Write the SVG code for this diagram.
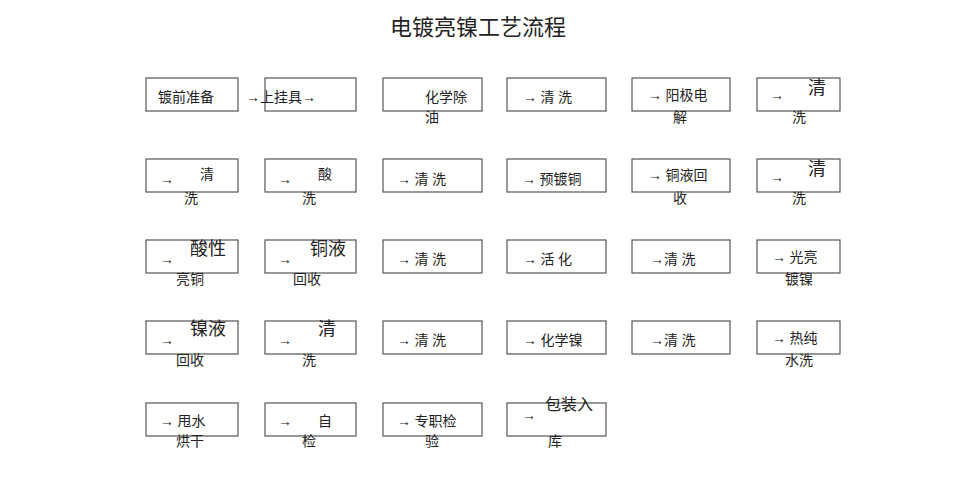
<svg xmlns="http://www.w3.org/2000/svg" width="956" height="494" viewBox="0 0 956 494">
<style>
rect{fill:#fff;stroke:#555;stroke-width:1.2}
text{font-family:"Liberation Serif","Noto Sans CJK SC",serif;font-size:14px;fill:#222}
.b{font-size:18px}
.t{font-size:22px}
</style>
<rect x="0" y="0" width="956" height="494" style="stroke:none"/>
<text class="t" x="478" y="35" text-anchor="middle">电镀亮镍工艺流程</text>
<g id="connectors"></g>
<g id="r1">
<g id="n1"><rect x="146" y="78" width="92" height="33"/><text x="158" y="102">镀前准备</text></g>
<g id="n2"><rect x="265" y="78" width="91" height="33"/><text x="246" y="102">→上挂具→</text></g>
<g id="n3"><rect x="383" y="78" width="99" height="33"/><text x="425" y="102">化学除</text><text x="425" y="122">油</text></g>
<g id="n4"><rect x="507" y="78" width="99" height="33"/><text x="523" y="102">→   清 洗</text></g>
<g id="n5"><rect x="632" y="78" width="98" height="33"/><text x="648" y="100">→ 阳极电</text><text x="673" y="122">解</text></g>
<g id="n6"><rect x="757" y="78" width="83" height="33"/><text x="770" y="100">→</text><text class="b" x="808" y="94">清</text><text x="792" y="122">洗</text></g>
</g>
<g id="r2">
<g id="n7"><rect x="146" y="159" width="92" height="33"/><text x="160" y="184">→</text><text x="200" y="179">清</text><text x="184" y="203">洗</text></g>
<g id="n8"><rect x="265" y="159" width="91" height="33"/><text x="278" y="184">→</text><text x="318" y="179">酸</text><text x="302" y="203">洗</text></g>
<g id="n9"><rect x="383" y="159" width="99" height="33"/><text x="397" y="184">→   清   洗</text></g>
<g id="n10"><rect x="507" y="159" width="99" height="33"/><text x="522" y="184">→   预镀铜</text></g>
<g id="n11"><rect x="632" y="159" width="98" height="33"/><text x="648" y="180">→ 铜液回</text><text x="673" y="203">收</text></g>
<g id="n12"><rect x="757" y="159" width="83" height="33"/><text x="770" y="182">→</text><text class="b" x="808" y="175">清</text><text x="792" y="203">洗</text></g>
</g>
<g id="r3">
<g id="n13"><rect x="146" y="240" width="92" height="33"/><text x="160" y="264">→</text><text class="b" x="190" y="255">酸性</text><text x="176" y="284">亮铜</text></g>
<g id="n14"><rect x="265" y="240" width="91" height="33"/><text x="278" y="264">→</text><text class="b" x="310" y="255">铜液</text><text x="293" y="284">回收</text></g>
<g id="n15"><rect x="383" y="240" width="99" height="33"/><text x="397" y="264">→   清   洗</text></g>
<g id="n16"><rect x="507" y="240" width="99" height="33"/><text x="523" y="264">→   活 化</text></g>
<g id="n17"><rect x="632" y="240" width="98" height="33"/><text x="650" y="264">→清   洗</text></g>
<g id="n18"><rect x="757" y="240" width="83" height="33"/><text x="772" y="262">→ 光亮</text><text x="785" y="284">镀镍</text></g>
</g>
<g id="r4">
<g id="n19"><rect x="146" y="321" width="92" height="33"/><text x="160" y="345">→</text><text class="b" x="190" y="335">镍液</text><text x="176" y="365">回收</text></g>
<g id="n20"><rect x="265" y="321" width="91" height="33"/><text x="278" y="345">→</text><text class="b" x="318" y="335">清</text><text x="302" y="365">洗</text></g>
<g id="n21"><rect x="383" y="321" width="99" height="33"/><text x="397" y="345">→   清   洗</text></g>
<g id="n22"><rect x="507" y="321" width="99" height="33"/><text x="523" y="345">→   化学镍</text></g>
<g id="n23"><rect x="632" y="321" width="98" height="33"/><text x="650" y="345">→清   洗</text></g>
<g id="n24"><rect x="757" y="321" width="83" height="33"/><text x="772" y="343">→ 热纯</text><text x="785" y="365">水洗</text></g>
</g>
<g id="r5">
<g id="n25"><rect x="146" y="403" width="92" height="33"/><text x="160" y="426">→  甩水</text><text x="176" y="446">烘干</text></g>
<g id="n26"><rect x="265" y="403" width="91" height="33"/><text x="278" y="426">→</text><text x="318" y="426">自</text><text x="302" y="446">检</text></g>
<g id="n27"><rect x="383" y="403" width="99" height="33"/><text x="397" y="426">→ 专职检</text><text x="425" y="446">验</text></g>
<g id="n28"><rect x="507" y="403" width="99" height="33"/><text x="522" y="420">→</text><text class="b" x="545" y="410" style="font-size:16px">包装入</text><text x="548" y="446">库</text></g>
</g>
</svg>
